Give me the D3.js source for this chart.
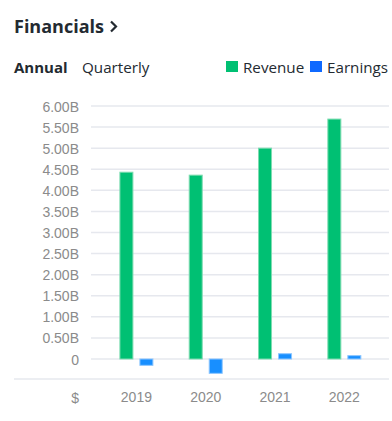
<!DOCTYPE html>
<html><head><meta charset="utf-8">
<script src="https://cdn.jsdelivr.net/npm/d3@7"></script>
<style>
html,body{margin:0;padding:0;background:#fff;}
svg{display:block;}
</style></head>
<body>
<script>
const years = ["2019", "2020", "2021", "2022"];
const revenue = [4.43, 4.36, 5.00, 5.69];
const earnings = [-0.15, -0.34, 0.125, 0.08];
const yTicks = [0, 0.5, 1, 1.5, 2, 2.5, 3, 3.5, 4, 4.5, 5, 5.5, 6];
const yTickLabels = ["0", "0.50B", "1.00B", "1.50B", "2.00B", "2.50B", "3.00B", "3.50B", "4.00B", "4.50B", "5.00B", "5.50B", "6.00B"];
const seriesNames = ["Revenue", "Earnings"];

const W = 392, H = 421;
const svg = d3.select("body").append("svg").attr("width", W).attr("height", H);

const y = d3.scaleLinear().domain([0, 6]).range([359, 106]);
const x0 = d3.scaleBand().domain(years).range([101.75, 379]).paddingInner(0).paddingOuter(0);
const bw = x0.bandwidth();
const x1 = d3.scaleBand().domain(seriesNames).range([bw/2 - 17, bw/2 + 17]).paddingInner(0.3).paddingOuter(0);

// title
svg.append("text").attr("x", 14).attr("y", 33).attr("font-family", "'Open Sans', sans-serif")
  .attr("font-weight", 700).attr("font-size", 18).attr("fill", "#232a31").text("Financials");
svg.append("path").attr("d", "M111,21.5 L116,26.5 L111,31.5").attr("fill", "none")
  .attr("stroke", "#232a31").attr("stroke-width", 2.2);

// tabs
svg.append("text").attr("x", 14).attr("y", 72.5).attr("font-family", "'Open Sans', sans-serif")
  .attr("font-weight", 700).attr("font-size", 15).attr("fill", "#232a31").text("Annual");
svg.append("text").attr("x", 82).attr("y", 72.5).attr("font-family", "'Open Sans', sans-serif")
  .attr("font-weight", 400).attr("font-size", 15.2).attr("fill", "#232a31").text("Quarterly");

// legend
const legendColors = ["#00c073", "#0f69ff"];
const legendX = [226, 310];
seriesNames.forEach((s, i) => {
  svg.append("rect").attr("x", legendX[i]).attr("y", 61).attr("width", 12).attr("height", 11).attr("fill", legendColors[i]);
  svg.append("text").attr("x", legendX[i] + 17).attr("y", 72.5).attr("font-family", "'Open Sans', sans-serif")
    .attr("font-size", 15.2).attr("fill", "#232a31").text(s);
});

// gridlines
const yAxis = d3.axisLeft(y).tickValues(yTicks).tickFormat((d, i) => yTickLabels[i]).tickSize(0).tickPadding(0);
const ga = svg.append("g").attr("transform", "translate(79,0)").call(yAxis);
ga.select(".domain").remove();
ga.selectAll("text").attr("font-family", "'Liberation Sans', Arial, sans-serif").attr("font-size", 14)
  .attr("fill", "#8b8b8b").attr("dy", "0.36em");

svg.append("g").selectAll("line").data(yTicks).join("line")
  .attr("x1", 91).attr("x2", 389).attr("y1", d => y(d)).attr("y2", d => y(d))
  .attr("stroke", "#e6e8ee").attr("stroke-width", 1.5);

svg.append("line").attr("x1", 14).attr("x2", 389).attr("y1", 379).attr("y2", 379)
  .attr("stroke", "#e6e8ee").attr("stroke-width", 1.5);

// bars
const data = years.map((yr, i) => ({year: yr, values: [
  {key: "Revenue", v: revenue[i]}, {key: "Earnings", v: earnings[i]}]}));
const barFill = {Revenue: "#00c073", Earnings: "#188fff"};
const barStroke = {Revenue: "#7ddcb0", Earnings: "#8cc6ff"};
svg.append("g").selectAll("g").data(data).join("g")
  .attr("transform", d => `translate(${x0(d.year)},0)`)
  .selectAll("rect").data(d => d.values).join("rect")
  .attr("x", d => x1(d.key) + 0.5)
  .attr("width", x1.bandwidth() - 1)
  .attr("y", d => Math.min(y(d.v), y(0)))
  .attr("height", d => Math.abs(y(d.v) - y(0)))
  .attr("fill", d => barFill[d.key])
  .attr("stroke", d => barStroke[d.key]).attr("stroke-width", 1);

// x labels
const xAxis = d3.axisBottom(x0).tickSize(0).tickPadding(0);
const gx = svg.append("g").attr("transform", "translate(0,392)").call(xAxis);
gx.select(".domain").remove();
gx.selectAll("text").attr("font-family", "'Liberation Sans', Arial, sans-serif").attr("font-size", 14)
  .attr("fill", "#8b8b8b").attr("dy", "0.71em");
svg.append("text").attr("x", 79).attr("y", 402.5).attr("text-anchor", "end")
  .attr("font-family", "'Liberation Sans', Arial, sans-serif").attr("font-size", 14).attr("fill", "#8b8b8b").text("$");
</script>
</body></html>
